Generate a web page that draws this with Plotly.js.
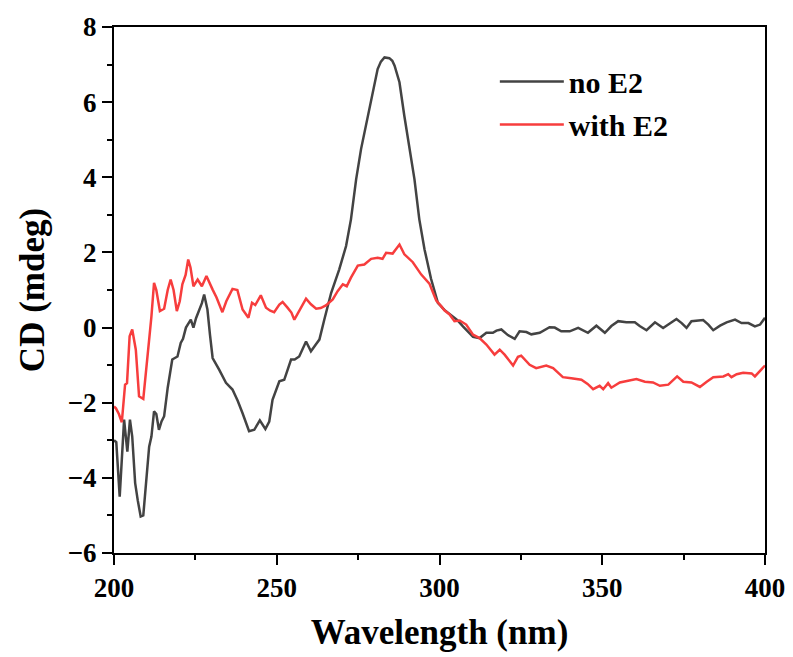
<!DOCTYPE html>
<html>
<head>
<meta charset="utf-8">
<script src="https://cdn.plot.ly/plotly-3.0.1.min.js"></script>
<style>html,body{margin:0;padding:0;background:#fff;}#chart{width:793px;height:657px;}</style>
</head>
<body>
<div id="chart"></div>
<script>
// Wavelength (nm) and CD (mdeg) — no E2
const wlNoE2 = [200,200.7,201.75,202.5,203.1,204.1,204.9,205.6,206.5,207.3,208.2,209,209.8,210.8,211.5,212.3,213,213.8,214.6,215.4,216.5,217.9,219.5,220.5,221.2,222.1,223.6,224.4,225.2,226.2,227,227.7,228.7,229.5,230.3,232.3,234.4,236.4,238,239.5,241.5,243.1,244.8,246.5,247.7,248.7,250.8,252.3,254.4,255.5,256.9,259,260.5,262,263.1,264.6,266.7,269.2,271.3,272.8,274.4,275.9,277.9,279.5,281,282,283.1,284.6,285.5,286.2,287.7,289.2,290.8,292.3,293.8,295.4,297.4,299.5,301.5,304.1,305.5,307.2,309,310.3,312.3,314.4,316.4,317.5,319,321,323.1,324.6,326.7,328.2,330.8,332.5,333.8,335.4,337.4,340,342.6,345.6,348.2,350.8,352.8,354.9,357.4,360,361.5,363.6,366.2,368.7,370.8,372.8,374.4,375.9,377.4,381,382.6,384.1,386.2,388.2,390.8,392.8,394.9,396.9,398.5,400];
const cdNoE2 = [-3.0,-3.05,-4.5,-3.2,-2.45,-3.3,-2.45,-2.9,-4.14,-4.6,-5.03,-5.0,-4.1,-3.17,-2.9,-2.23,-2.3,-2.72,-2.5,-2.36,-1.6,-0.85,-0.77,-0.41,-0.3,0.0,0.21,0.0,0.25,0.48,0.65,0.88,0.48,-0.2,-0.81,-1.12,-1.47,-1.65,-1.95,-2.28,-2.76,-2.72,-2.47,-2.7,-2.5,-1.92,-1.43,-1.39,-0.85,-0.85,-0.77,-0.37,-0.63,-0.45,-0.32,0.21,0.92,1.55,2.17,2.88,3.95,4.75,5.55,6.26,6.88,7.08,7.19,7.17,7.1,6.97,6.53,5.63,4.75,3.95,2.88,2.08,1.3,0.66,0.47,0.3,0.2,0.03,-0.12,-0.25,-0.28,-0.14,-0.14,-0.08,-0.05,-0.2,-0.3,-0.1,-0.12,-0.18,-0.14,-0.05,0.01,0.0,-0.1,-0.1,-0.01,-0.14,0.05,-0.14,0.04,0.17,0.14,0.14,0.04,-0.07,0.14,-0.01,0.12,0.23,0.12,-0.01,0.17,0.2,0.08,-0.07,0.05,0.14,0.21,0.12,0.12,0.03,0.08,0.26];

// Wavelength (nm) and CD (mdeg) — with E2
const wlWithE2 = [200,200.6,201.5,202.4,203.4,204,204.8,205.6,206.7,207.7,209,210,210.8,211.5,212.3,213,214.1,215.4,216.5,217.4,218.3,219.3,220.2,221,222,222.8,223.5,224.4,225.7,227,228.4,230.3,231.5,233.3,234.5,236.4,237.9,239.5,241.3,242.4,243.4,245.1,246.7,248,249.2,250.8,251.8,253.3,254.5,255.4,256.9,259,260.5,262.1,263.5,265.1,267.2,268.7,270.3,271.5,272.8,274.9,276.9,279,281,282.5,283.6,285.6,287.7,289.2,291.8,294.4,296.9,299,300.5,301.5,303.1,304.6,306.2,308.2,310.3,312.3,314.4,316.9,318.5,320,322.6,324.1,325.1,327.7,329.7,332.8,334.9,337.9,340.5,343.6,345.5,347.2,349.2,350.3,351.8,352.8,355.4,358.5,360.5,363.1,365.6,367.7,370.3,373,374.9,377.4,380,382.1,384.1,387.2,388.7,389.7,391.3,393.3,395.9,396.9,400];
const cdWithE2 = [-2.1,-2.15,-2.3,-2.52,-1.52,-1.48,-0.23,-0.05,-0.59,-1.83,-1.9,-1.1,-0.32,0.3,1.19,1.0,0.44,0.5,1.0,1.28,1.0,0.44,0.7,1.15,1.4,1.81,1.6,1.1,1.28,1.1,1.37,1.01,0.8,0.41,0.7,1.03,1.0,0.48,0.26,0.66,0.6,0.86,0.53,0.45,0.41,0.61,0.68,0.53,0.4,0.21,0.44,0.77,0.62,0.5,0.52,0.59,0.75,0.97,1.15,1.1,1.33,1.65,1.68,1.83,1.86,1.83,1.99,1.97,2.21,1.95,1.74,1.41,1.17,0.72,0.57,0.46,0.35,0.17,0.19,0.08,-0.19,-0.28,-0.45,-0.72,-0.59,-0.72,-1.01,-0.78,-0.75,-0.99,-1.08,-1.01,-1.08,-1.32,-1.35,-1.39,-1.5,-1.64,-1.55,-1.64,-1.48,-1.6,-1.46,-1.41,-1.37,-1.44,-1.46,-1.55,-1.52,-1.3,-1.44,-1.46,-1.58,-1.44,-1.32,-1.3,-1.24,-1.32,-1.24,-1.2,-1.22,-1.3,-1.01];

const seriesNames = ["no E2", "with E2"];
const xTickVals = [200, 250, 300, 350, 400];
const yTickVals = [-6, -4, -2, 0, 2, 4, 6, 8];

const FONT = "'Liberation Serif', 'Times New Roman', serif";

const traces = [
  {x: wlNoE2, y: cdNoE2, name: seriesNames[0], type: 'scatter', mode: 'lines',
   line: {color: '#434343', width: 2.5}, legendgroup: 'a'},
  {x: wlWithE2, y: cdWithE2, name: seriesNames[1], type: 'scatter', mode: 'lines',
   line: {color: '#f73d3d', width: 2.5}, legendgroup: 'b'}
];

const axisCommon = {
  showline: true, linecolor: '#000', linewidth: 2, mirror: true,
  ticks: 'outside', ticklen: 10, tickwidth: 2, tickcolor: '#000',
  showgrid: false, zeroline: false,
  tickfont: {family: FONT, size: 27, color: '#000', weight: 'bold'}
};

const layout = {
  width: 793, height: 657,
  margin: {l: 114, r: 28, t: 27, b: 104},
  paper_bgcolor: '#fff', plot_bgcolor: '#fff',
  font: {family: FONT, color: '#000'},
  xaxis: Object.assign({}, axisCommon, {
    range: [200, 400], tickvals: xTickVals,
    minor: {dtick: 25, tick0: 200, ticks: 'outside', ticklen: 5, tickwidth: 2, tickcolor: '#000'},
    title: {text: '<b>Wavelength (nm)</b>', font: {family: FONT, size: 35, color: '#000'}, standoff: 17}
  }),
  yaxis: Object.assign({}, axisCommon, {
    range: [-6, 8], tickvals: yTickVals,
    minor: {dtick: 1, tick0: 0, ticks: 'outside', ticklen: 5, tickwidth: 2, tickcolor: '#000'},
    title: {text: '<b>CD (mdeg)</b>', font: {family: FONT, size: 35, color: '#000'}, standoff: 12}
  }),
  showlegend: true,
  legend: {
    x: 0.585, y: 0.946, xanchor: 'left', yanchor: 'top',
    bgcolor: 'rgba(0,0,0,0)', borderwidth: 0,
    font: {family: FONT, size: 30, color: '#000', weight: 'bold'},
    itemwidth: 64, traceorder: 'grouped', tracegroupgap: 1
  }
};

Plotly.newPlot('chart', traces, layout, {displayModeBar: false, staticPlot: true});
</script>
</body>
</html>
